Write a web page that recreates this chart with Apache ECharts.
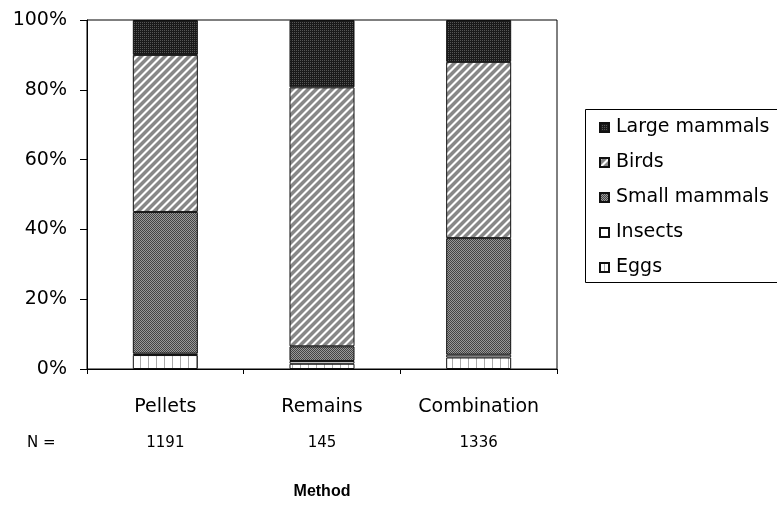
<!DOCTYPE html>
<html>
<head>
<meta charset="utf-8">
<script src="https://cdn.jsdelivr.net/npm/echarts@6/dist/echarts.min.js"></script>
<style>
  html, body { margin: 0; padding: 0; background: #fff; }
  #chart { width: 777px; height: 508px; }
</style>
</head>
<body>
<div id="chart"></div>
<script>
// Diet composition (% of prey items) by sampling method
const categories = ['Pellets', 'Remains', 'Combination'];
const sampleSizes = [1191, 145, 1336];
const eggs = [4.0, 1.5, 3.3];
const insects = [0.4, 0.8, 0.8];
const smallMammals = [40.6, 4.2, 33.4];
const birds = [45.0, 74.2, 50.5];
const largeMammals = [10.0, 19.3, 12.0];
const legendOrder = ['Large mammals', 'Birds', 'Small mammals', 'Insects', 'Eggs'];

const FONT = '"DejaVu Sans", "Liberation Sans", Arial, sans-serif';
const BOLD_FONT = '"Liberation Sans", Arial, sans-serif';

// Small bitmap fills imitating monochrome hatch patterns
function makePattern(w, h, painter) {
  const c = document.createElement('canvas');
  c.width = w; c.height = h;
  const ctx = c.getContext('2d');
  const img = ctx.createImageData(w, h);
  for (let y = 0; y < h; y++) {
    for (let x = 0; x < w; x++) {
      const v = painter(x, y);
      const k = (y * w + x) * 4;
      img.data[k] = img.data[k + 1] = img.data[k + 2] = v;
      img.data[k + 3] = 255;
    }
  }
  ctx.putImageData(img, 0, 0);
  return { image: c, repeat: 'repeat' };
}

const darkDots = makePattern(2, 2, (x, y) => (x === 0 && y === 0) ? 0x55 : 0x1a);
const diagStripes = makePattern(8, 8, (x, y) => {
  const d = (x + y) % 8;
  if (d === 0 || d === 1) return 0xff;
  if (d === 2 || d === 7) return 0xc4;
  return 0x88;
});
const checker = makePattern(2, 2, (x, y) => ((x + y) % 2 === 0) ? 0x44 : 0x99);
const vLines = makePattern(8, 1, (x) => (x === 4) ? 0xaa : 0xff);

function barSeries(name, data, color) {
  return {
    name, type: 'bar', stack: 'total', data,
    barWidth: '41.5%',
    itemStyle: { color, borderColor: '#111', borderWidth: 1 },
    emphasis: { disabled: true }
  };
}

const chart = echarts.init(document.getElementById('chart'), null, { renderer: 'canvas' });
chart.setOption({
  animation: false,
  backgroundColor: '#fff',
  grid: {
    left: 87, right: 220, top: 20, bottom: 139,
    show: true, borderColor: '#000', borderWidth: 1, backgroundColor: 'transparent'
  },
  xAxis: {
    type: 'category',
    data: categories,
    boundaryGap: true,
    axisLine: { lineStyle: { color: '#000', width: 1 } },
    axisTick: { show: true, length: 5, lineStyle: { color: '#000' } },
    axisLabel: {
      margin: 20,
      formatter: (v, i) => '{c|' + v + '}\n{n|' + sampleSizes[i] + '}',
      rich: {
        c: { fontFamily: FONT, fontSize: 19, color: '#000', lineHeight: 36 },
        n: { fontFamily: FONT, fontSize: 15, color: '#000', lineHeight: 36 }
      }
    },
    name: 'Method',
    nameLocation: 'middle',
    nameGap: 115,
    nameTextStyle: { fontFamily: BOLD_FONT, fontSize: 16, fontWeight: 'bold', color: '#000' }
  },
  yAxis: {
    type: 'value',
    min: 0, max: 100, interval: 20,
    axisLine: { show: true, lineStyle: { color: '#000', width: 1 } },
    axisTick: { show: true, length: 7, lineStyle: { color: '#000' } },
    splitLine: { show: false },
    axisLabel: {
      margin: 20,
      formatter: '{value}%',
      fontFamily: FONT, fontSize: 19, color: '#000'
    }
  },
  legend: {
    orient: 'vertical',
    left: 594, top: 113,
    data: legendOrder,
    icon: 'rect',
    itemWidth: 9, itemHeight: 9,
    itemGap: 16,
    textStyle: { fontFamily: FONT, fontSize: 19, color: '#000', padding: [0, 0, 0, 2] },
    selectedMode: false
  },
  graphic: [
    {
      type: 'rect', left: 585, top: 109, silent: true, z: -1,
      shape: { width: 260, height: 173 },
      style: { fill: '#fff', stroke: '#000', lineWidth: 1 }
    },
    {
      type: 'text', left: 27, top: 436, silent: true,
      style: { text: 'N =', font: '15px ' + FONT, fill: '#000' }
    }
  ],
  series: [
    barSeries('Eggs', eggs, vLines),
    barSeries('Insects', insects, '#fff'),
    barSeries('Small mammals', smallMammals, checker),
    barSeries('Birds', birds, diagStripes),
    barSeries('Large mammals', largeMammals, darkDots)
  ]
});
</script>
</body>
</html>
